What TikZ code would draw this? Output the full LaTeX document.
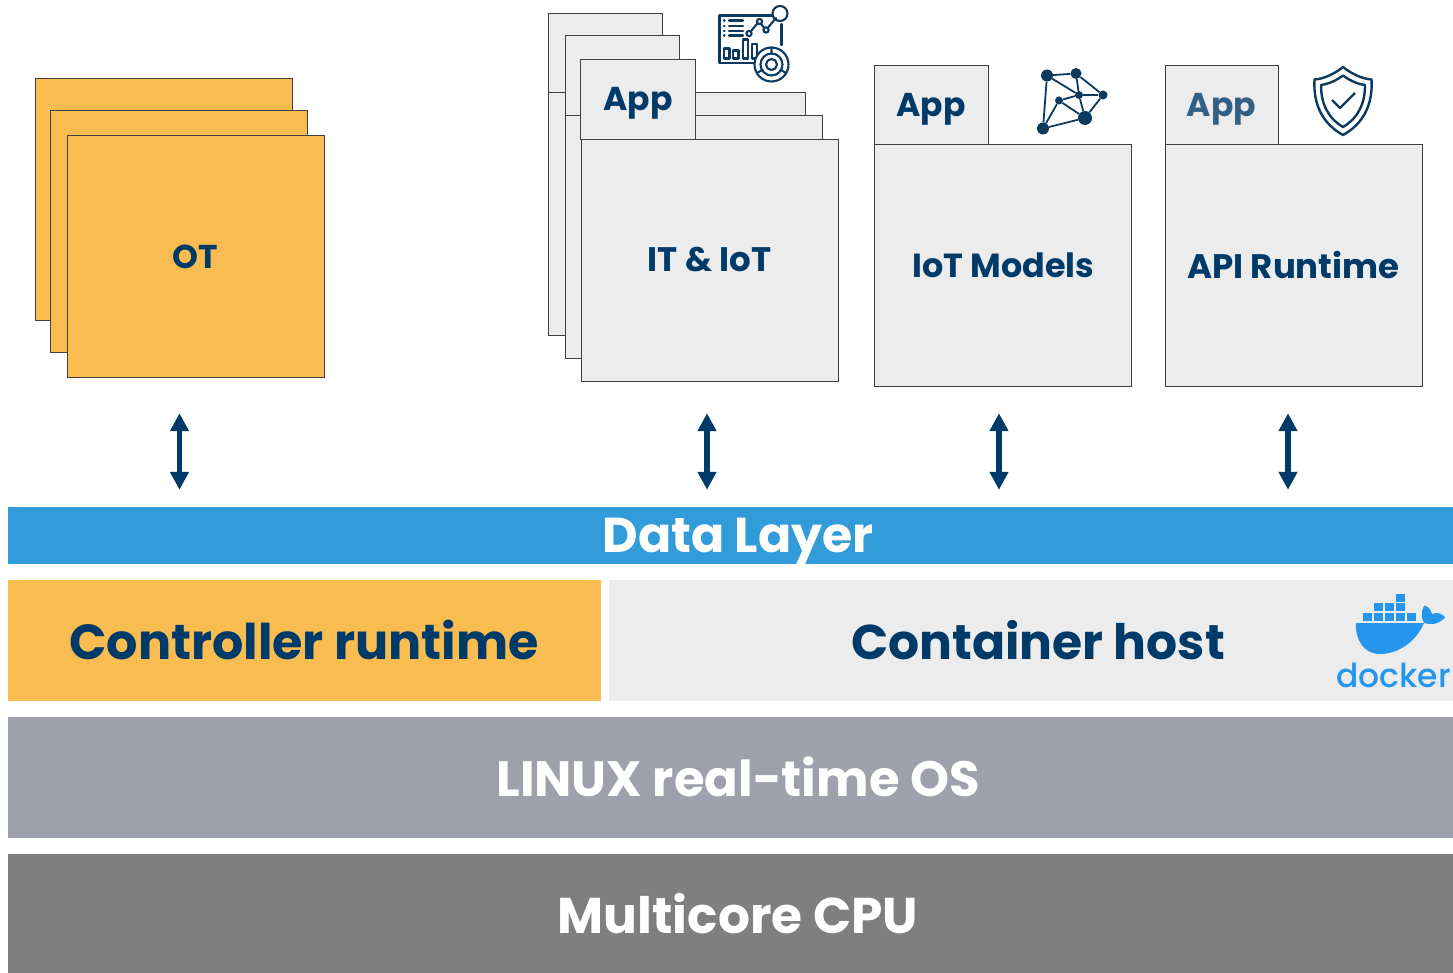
\documentclass[tikz,border=0pt]{standalone}
\usepackage{fontspec}
\setmainfont{Poppins}[BoldFont={Poppins Bold}]
\newfontfamily\dockerfont{Poppins Medium}
\usetikzlibrary{arrows.meta}
\definecolor{navy}{HTML}{003A68}
\definecolor{ink}{HTML}{0B3A5E}
\definecolor{amber}{HTML}{F9BC50}
\definecolor{pale}{HTML}{ECECEC}
\definecolor{sky}{HTML}{329CDA}
\definecolor{slategrey}{HTML}{9EA1AB}
\definecolor{midgrey}{HTML}{7F7F7F}
\definecolor{dock}{HTML}{2496ED}
\tikzset{
  x=1pt,y=-1pt,
  sheet/.style={draw=black!75,line width=.9pt,fill=#1},
  sheet/.default=pale,
  lbl/.style={font=\bfseries\fontsize{#1}{#1}\selectfont,text=navy,inner sep=0pt,anchor=center},
  bar/.style={fill=#1},
  link/.style={navy,line width=5.5pt,{Triangle[width=18pt,length=18pt]}-{Triangle[width=18pt,length=18pt]},shorten >=-.8pt,shorten <=-.8pt},
  ico/.style={ink,line width=2.1pt,line join=round,line cap=round},
  dot/.style={circle,fill=ink,inner sep=0pt,minimum size=#1},
  edge/.style={ink,line width=1.8pt}
}
\begin{document}
\begin{tikzpicture}
\useasboundingbox (0,0) rectangle (1453,973);
\fill[white] (0,0) rectangle (1453,973);
% OT stack
\draw[sheet=amber] (35,78) rectangle (292.8,320.8);
\draw[sheet=amber] (50,110.7) rectangle (307.8,352.8);
\draw[sheet=amber] (67,135.5) rectangle (324,377.8);
\node[lbl=33] (ot) at (195.5,257) {OT};
% IT stack
\draw[sheet] (548.5,13) rectangle (662.8,92.8);
\draw[sheet] (548.5,92.8) rectangle (805.8,335);
\draw[sheet] (565,35.5) rectangle (679.8,115);
\draw[sheet] (565,115) rectangle (822.2,358);
\draw[sheet] (580.5,59) rectangle (695,139);
\draw[sheet] (581,139) rectangle (838,381);
\node[lbl=33] (appa) at (638,103) {App};
\node[lbl=34] (it) at (709.5,260) {IT \& IoT};
% IoT Models
\draw[sheet] (874.8,144) rectangle (1131.8,386.8);
\draw[sheet] (874,65) rectangle (988.8,144);
\node[lbl=33] (appb) at (931,109) {App};
\node[lbl=33.4] (iot) at (1003.5,265.5) {IoT Models};
% API Runtime
\draw[sheet] (1165,144.5) rectangle (1422.8,386.5);
\draw[sheet] (1165,65) rectangle (1278.8,144);
\node[lbl=33,text=navy!80] (appc) at (1221.5,109) {App};
\node[lbl=34] (api) at (1293.5,265.5) {API Runtime};
% layers
\fill[bar=sky] (8,507) rectangle (1453,564);
\node[lbl=49,text=white] (data) at (738,542) {Data Layer};
\fill[bar=amber] (8,580) rectangle (601,701);
\node[lbl=49.2] (ctrl) at (304,639.5) {Controller runtime};
\fill[bar=pale] (609,580) rectangle (1453,701);
\node[lbl=48.8] (cont) at (1038,640) {Container host};
\fill[bar=slategrey] (8,717) rectangle (1453,838);
\node[lbl=49.6,text=white] (linux) at (738,777) {LINUX real-time OS};
\fill[bar=midgrey] (8,854) rectangle (1453,973);
\node[lbl=50.2,text=white] (cpu) at (738,914) {Multicore CPU};
% connectors
\coordinate (a1) at (179.5,414); \coordinate (b1) at (179.5,489);
\coordinate (a2) at (707,414);   \coordinate (b2) at (707,489);
\coordinate (a3) at (999,414);   \coordinate (b3) at (999,489);
\coordinate (a4) at (1288,414);  \coordinate (b4) at (1288,489);
\draw[link] (a1) -- (b1);
\draw[link] (a2) -- (b2);
\draw[link] (a3) -- (b3);
\draw[link] (a4) -- (b4);
% dashboard icon
\begin{scope}[ico]
\draw (778,15.5) -- (719.5,15.5) -- (719.5,63) -- (755,63);
\draw (781.5,24) -- (781.5,45);
\draw[fill=white] (780,13.5) circle (7.5);
\draw (724,20.5) -- (724.5,20.5) (724,26) -- (724.5,26) (724,31) -- (724.5,31) (724,35.5) -- (724.5,35.5);
\draw (729,20.5) -- (743,20.5) (729,26) -- (743,26) (729,31) -- (743,31) (729,35.5) -- (743,35.5);
\draw (749,33.5) -- (759,21.5) -- (766,30) -- (776,18);
\draw[fill=white] (749,33.5) circle (2.6);
\draw[fill=white] (759.5,21.5) circle (2.6);
\draw[fill=white] (766,30) circle (2.6);
\draw (724,48.5) rectangle (729.5,58.5);
\draw (733,50.5) rectangle (738.5,58.5);
\draw (743,39.5) rectangle (748,58.5);
\draw (752,44) rectangle (757,58.5);
\draw[fill=white] (771.5,64.5) circle (17);
\draw (771.5,64.5) circle (11);
\draw (771.5,64.5) circle (5.5);
\draw (771.5,47.5) -- (771.5,53.5) (757,73) -- (762,70) (786,73) -- (781,70);
\end{scope}
% network icon
\node[dot=12pt] (n1) at (1047,75.5) {};
\node[dot=11pt] (n2) at (1076,73.5) {};
\node[dot=8pt] (n3) at (1079,95) {};
\node[dot=9pt] (n4) at (1103,95) {};
\node[dot=8pt] (n5) at (1059,100.5) {};
\node[dot=14pt] (n6) at (1085,118) {};
\node[dot=12pt] (n7) at (1043,128.5) {};
\foreach \p/\q in {n1/n2,n1/n3,n1/n7,n2/n3,n2/n4,n3/n4,n3/n5,n3/n6,n4/n6,n5/n6,n5/n7,n6/n7}
  \draw[edge] (\p) -- (\q);
% shield icon
\begin{scope}[ink,line width=2.4pt,line join=round]
\draw (1343,67) .. controls (1350,73) and (1362,79) .. (1371.5,79.5)
  .. controls (1373,105) and (1363,124) .. (1343,135)
  .. controls (1323,124) and (1313,105) .. (1314.5,79.5)
  .. controls (1324,79) and (1336,73) .. (1343,67) -- cycle;
\draw (1343,75.5) .. controls (1349,80) and (1357,84) .. (1365,85)
  .. controls (1365,104) and (1358,118) .. (1343,127)
  .. controls (1328,118) and (1321,104) .. (1321,85)
  .. controls (1329,84) and (1337,80) .. (1343,75.5) -- cycle;
\draw (1332,100) -- (1340,108) -- (1355,93);
\end{scope}
% docker logo
\begin{scope}[fill=dock]
\fill (1363,613) rectangle (1372,620.5);
\fill (1374,613) rectangle (1383,620.5);
\fill (1385,613) rectangle (1394,620.5);
\fill (1396,613) rectangle (1405,620.5);
\fill (1407,613) rectangle (1416,620.5);
\fill (1374,603) rectangle (1383,611);
\fill (1385,603) rectangle (1394,611);
\fill (1396,603) rectangle (1405,611);
\fill (1396,594) rectangle (1405,601.5);
\fill (1356,623) -- (1424,623) .. controls (1430,625) and (1438,625) .. (1445,617.5)
  .. controls (1442,613) and (1436,612) .. (1432,614) .. controls (1431,610) and (1428,606) .. (1424,605.5)
  .. controls (1421,612) and (1421,618) .. (1424,623)
  .. controls (1416,642) and (1398,654) .. (1380,654) .. controls (1364,654) and (1355,640) .. (1356,623) -- cycle;
\end{scope}
\node[font=\dockerfont\fontsize{33}{33}\selectfont,text=dock,inner sep=0pt,anchor=center] (docker) at (1393.5,675.5) {docker};
\end{tikzpicture}
\end{document}
